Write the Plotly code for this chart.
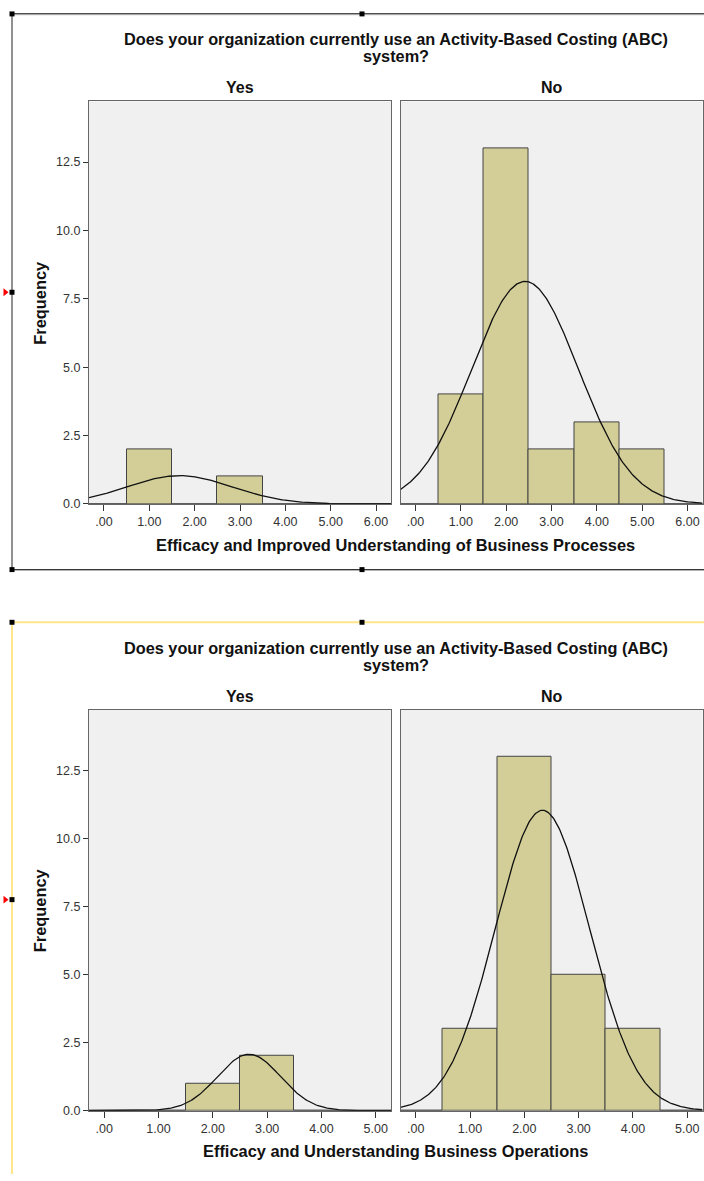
import numpy as np
import plotly.graph_objects as go

W, H = 704, 1181

# ---------------- data ----------------
title_line1 = "Does your organization currently use an Activity-Based Costing (ABC)"
title_line2 = "system?"
panel_labels = ["Yes", "No"]

# Chart 1: Efficacy and Improved Understanding of Business Processes
c1_xtitle = "Efficacy and Improved Understanding of Business Processes"
c1_bins = [0, 1, 2, 3, 4, 5, 6]
c1_yes_counts = [0, 2, 0, 1, 0, 0, 0]
c1_no_counts = [0, 4, 13, 2, 3, 2, 0]
c1_xticks = [0, 1, 2, 3, 4, 5, 6]
c1_xticktext = [".00", "1.00", "2.00", "3.00", "4.00", "5.00", "6.00"]

# Chart 2: Efficacy and Understanding Business Operations
c2_xtitle = "Efficacy and Understanding Business Operations"
c2_bins = [0, 1, 2, 3, 4, 5]
c2_yes_counts = [0, 0, 1, 2, 0, 0]
c2_no_counts = [0, 3, 13, 5, 3, 0]
c2_xticks = [0, 1, 2, 3, 4, 5]
c2_xticktext = [".00", "1.00", "2.00", "3.00", "4.00", "5.00"]

yticks = [0, 2.5, 5, 7.5, 10, 12.5]
yticktext = ["0.0", "2.5", "5.0", "7.5", "10.0", "12.5"]
y_max = 14.72

# ---------------- styles ----------------
BAR_FILL = "#d3ce97"
BAR_LINE = "#444444"
PANEL_BG = "#f0f0f0"
BORDER = "#666666"
FONT = "Liberation Sans, Arial, sans-serif"
TXT = "#111111"
TICK_TXT = "#333333"


def px(x):
    return x / W


def py(y):
    return 1 - y / H


def normal_curve(bins, counts, xr):
    # SPSS-style normal curve fitted to the same data (mean, sd, N)
    b = np.array(bins, float)
    c = np.array(counts, float)
    n = c.sum()
    m = (b * c).sum() / n
    sd = np.sqrt(((b - m) ** 2 * c).sum() / (n - 1))
    xs = np.linspace(xr[0], xr[1], 300)
    ys = n * 1.0 / (sd * np.sqrt(2 * np.pi)) * np.exp(-0.5 * ((xs - m) / sd) ** 2)
    return xs, ys


fig = go.Figure()

charts = [
    dict(bins=c1_bins, counts=[c1_yes_counts, c1_no_counts], xr=[-0.33, 6.33],
         xticks=c1_xticks, xtt=c1_xticktext, xtitle=c1_xtitle,
         ptop=102, pbot=507, title_y=39.5, lab_y=88.5, xt_y=548),
    dict(bins=c2_bins, counts=[c2_yes_counts, c2_no_counts], xr=[-0.28, 5.28],
         xticks=c2_xticks, xtt=c2_xticktext, xtitle=c2_xtitle,
         ptop=714, pbot=1117.3, title_y=651.5, lab_y=700.5, xt_y=1158),
]

xdoms = [[px(89), px(391)], [px(400.5), px(702.5)]]
layout_axes = {}
annotations = []
ax = 0
for ci, ch in enumerate(charts):
    for pi in range(2):
        ax += 1
        sfx = "" if ax == 1 else str(ax)
        xa, ya = "x" + sfx, "y" + sfx
        counts = ch["counts"][pi]
        fig.add_trace(go.Bar(
            x=ch["bins"], y=counts, width=1.0, xaxis=xa, yaxis=ya,
            marker=dict(color=BAR_FILL, line=dict(color=BAR_LINE, width=1)),
            showlegend=False, hoverinfo="x+y"))
        xs, ys = normal_curve(ch["bins"], counts, ch["xr"])
        fig.add_trace(go.Scatter(
            x=xs, y=ys, mode="lines", xaxis=xa, yaxis=ya,
            line=dict(color="#111111", width=1.3), showlegend=False,
            hoverinfo="skip"))
        layout_axes["xaxis" + sfx] = dict(
            domain=xdoms[pi], anchor=ya, range=ch["xr"], tickmode="array",
            tickvals=ch["xticks"], ticktext=ch["xtt"], ticks="outside",
            ticklen=6, tickwidth=1.3, tickcolor="#333333",
            showline=True, mirror=True, linecolor=BORDER, linewidth=1.3,
            showgrid=False, zeroline=False, fixedrange=True,
            tickfont=dict(family=FONT, size=12.5, color=TICK_TXT))
        layout_axes["yaxis" + sfx] = dict(
            domain=[py(ch["pbot"]), py(ch["ptop"])], anchor=xa,
            range=[0, y_max], tickmode="array", tickvals=yticks,
            ticktext=yticktext, ticks="outside" if pi == 0 else "",
            ticklen=5, tickwidth=1.3, tickcolor="#333333",
            showticklabels=(pi == 0),
            showline=True, mirror=True, linecolor=BORDER, linewidth=1.3,
            showgrid=False, zeroline=False, fixedrange=True,
            tickfont=dict(family=FONT, size=12.5, color=TICK_TXT))
        annotations.append(dict(
            text="<b>%s</b>" % panel_labels[pi], x=(xdoms[pi][0] + xdoms[pi][1]) / 2,
            y=py(ch["lab_y"]), xref="paper", yref="paper", showarrow=False,
            xanchor="center", yanchor="middle",
            font=dict(family=FONT, size=16, color=TXT)))
    cx = (px(89) + px(702.5)) / 2
    annotations.append(dict(text="<b>%s</b>" % title_line1, x=cx, y=py(ch["title_y"]),
                            xref="paper", yref="paper", showarrow=False,
                            xanchor="center", yanchor="middle",
                            font=dict(family=FONT, size=16.3, color=TXT)))
    annotations.append(dict(text="<b>%s</b>" % title_line2, x=cx, y=py(ch["title_y"] + 17),
                            xref="paper", yref="paper", showarrow=False,
                            xanchor="center", yanchor="middle",
                            font=dict(family=FONT, size=16.3, color=TXT)))
    annotations.append(dict(text="<b>%s</b>" % ch["xtitle"], x=cx, y=py(ch["xt_y"]),
                            xref="paper", yref="paper", showarrow=False,
                            xanchor="center", yanchor="middle",
                            font=dict(family=FONT, size=16.4, color=TXT)))
    annotations.append(dict(text="<b>Frequency</b>", x=px(40),
                            y=py((ch["ptop"] + ch["pbot"]) / 2),
                            xref="paper", yref="paper", showarrow=False, textangle=-90,
                            xanchor="center", yanchor="middle",
                            font=dict(family=FONT, size=16.4, color=TXT)))

# ---------------- frame decorations (selection frames) ----------------
shapes = []


def line(x0, y0, x1, y1, color, width):
    shapes.append(dict(type="line", xref="paper", yref="paper", x0=px(x0), y0=py(y0),
                       x1=px(x1), y1=py(y1), line=dict(color=color, width=width)))


def square(x, y, s=5):
    shapes.append(dict(type="rect", xref="paper", yref="paper", x0=px(x - s / 2),
                       y0=py(y + s / 2), x1=px(x + s / 2), y1=py(y - s / 2),
                       fillcolor="#000000", line=dict(width=0)))


def tri(x, y):
    path = "M %f,%f L %f,%f L %f,%f Z" % (px(x - 6), py(y - 4), px(x - 1), py(y), px(x - 6), py(y + 4))
    shapes.append(dict(type="path", xref="paper", yref="paper", path=path,
                       fillcolor="#ff0000", line=dict(width=0)))


# chart 1 frame (black)
line(12, 14.8, 704, 14.8, "#bbbbbb", 1)
line(12, 13.8, 704, 13.8, "#222222", 1)
line(12, 573.8, 704, 573.8, "#bbbbbb", 1)
line(12, 573, 704, 573, "#222222", 1)
line(12, 14, 12, 573, "#222222", 1)
for (sx, sy) in [(12, 14), (362, 14), (12, 573), (362, 573), (12, 294)]:
    square(sx, sy)
tri(9.5, 294)

# chart 2 frame (yellow)
line(12, 626, 704, 626, "#ffe58a", 2)
line(12, 626, 12, H, "#ffe58a", 2)
for (sx, sy) in [(12, 626), (362, 626), (12, 905)]:
    square(sx, sy)
tri(9.5, 905)

fig.update_layout(
    width=W, height=H, margin=dict(l=0, r=0, t=0, b=0),
    paper_bgcolor="#ffffff", plot_bgcolor=PANEL_BG,
    bargap=0, showlegend=False, annotations=annotations, shapes=shapes,
    font=dict(family=FONT), **layout_axes)

fig.write_html(
    "out.html",
    config={"displayModeBar": False},
    post_script=(
        "document.documentElement.style.margin='0';"
        "document.body.style.margin='0';"
        "document.body.style.overflow='hidden';"
    ))
